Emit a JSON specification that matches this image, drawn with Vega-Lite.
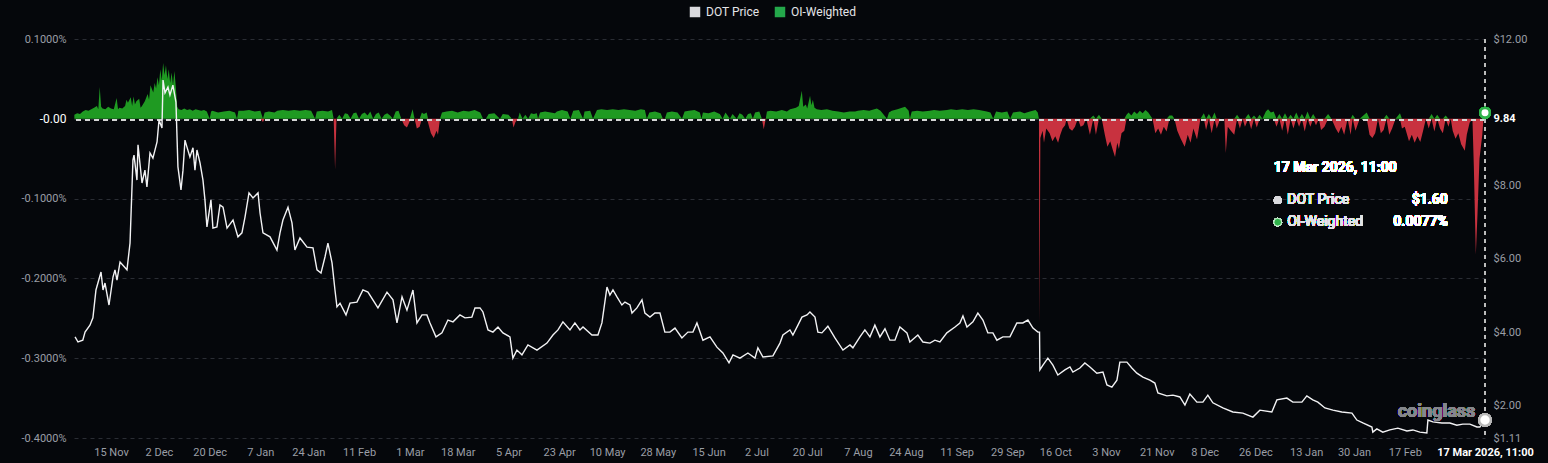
{
  "$schema": "https://vega.github.io/schema/vega-lite/v6.json",
  "width": 1411,
  "height": 399,
  "autosize": {"type": "none"},
  "padding": {"left": 74, "top": 39, "right": 63, "bottom": 25},
  "background": "#05070b",
  "config": {"view": {"stroke": null}, "font": "Roboto"},
  "datasets": {
    "price": [
      {"d":"2024-11-02T06:00Z","price":3.87},{"d":"2024-11-03T07:00Z","price":3.73},{"d":"2024-11-05T00:00Z","price":3.78},{"d":"2024-11-05T19:00Z","price":4.00},{"d":"2024-11-07T13:00Z","price":4.19},{"d":"2024-11-08T14:00Z","price":4.39},{"d":"2024-11-09T16:00Z","price":5.15},{"d":"2024-11-11T11:00Z","price":5.64},{"d":"2024-11-12T04:00Z","price":5.15},{"d":"2024-11-12T21:00Z","price":5.34},{"d":"2024-11-14T07:00Z","price":4.74},{"d":"2024-11-15T17:00Z","price":5.50},{"d":"2024-11-16T10:00Z","price":5.70},{"d":"2024-11-17T03:00Z","price":5.42},{"d":"2024-11-18T05:00Z","price":5.91},{"d":"2024-11-20T16:00Z","price":5.70},{"d":"2024-11-21T18:00Z","price":6.43},{"d":"2024-11-22T19:00Z","price":8.70},{"d":"2024-11-23T04:00Z","price":8.83},{"d":"2024-11-24T05:00Z","price":8.15},{"d":"2024-11-24T14:00Z","price":9.11},{"d":"2024-11-26T00:00Z","price":8.07},{"d":"2024-11-27T01:00Z","price":8.42},{"d":"2024-11-27T18:00Z","price":7.96},{"d":"2024-11-28T20:00Z","price":8.89},{"d":"2024-11-29T21:00Z","price":8.75},{"d":"2024-12-01T08:00Z","price":9.19},{"d":"2024-12-02T01:00Z","price":9.79},{"d":"2024-12-03T02:00Z","price":9.57},{"d":"2024-12-03T11:00Z","price":10.88},{"d":"2024-12-04T04:00Z","price":10.53},{"d":"2024-12-05T05:00Z","price":10.69},{"d":"2024-12-05T22:00Z","price":10.47},{"d":"2024-12-06T23:00Z","price":10.74},{"d":"2024-12-08T01:00Z","price":10.28},{"d":"2024-12-08T18:00Z","price":8.51},{"d":"2024-12-09T20:00Z","price":7.88},{"d":"2024-12-10T13:00Z","price":8.42},{"d":"2024-12-11T06:00Z","price":9.24},{"d":"2024-12-11T23:00Z","price":9.05},{"d":"2024-12-13T00:00Z","price":8.78},{"d":"2024-12-14T02:00Z","price":9.03},{"d":"2024-12-14T19:00Z","price":8.42},{"d":"2024-12-15T12:00Z","price":8.97},{"d":"2024-12-16T14:00Z","price":8.62},{"d":"2024-12-17T15:00Z","price":8.15},{"d":"2024-12-18T08:00Z","price":7.61},{"d":"2024-12-19T01:00Z","price":6.87},{"d":"2024-12-20T11:00Z","price":7.61},{"d":"2024-12-21T04:00Z","price":6.84},{"d":"2024-12-22T14:00Z","price":6.87},{"d":"2024-12-23T16:00Z","price":7.47},{"d":"2024-12-24T18:00Z","price":7.41},{"d":"2024-12-26T04:00Z","price":6.84},{"d":"2024-12-28T07:00Z","price":7.06},{"d":"2024-12-30T01:00Z","price":6.60},{"d":"2024-12-31T11:00Z","price":6.71},{"d":"2025-01-01T13:00Z","price":7.14},{"d":"2025-01-02T23:00Z","price":7.80},{"d":"2025-01-04T09:00Z","price":7.66},{"d":"2025-01-06T04:00Z","price":7.80},{"d":"2025-01-06T21:00Z","price":7.25},{"d":"2025-01-07T22:00Z","price":6.71},{"d":"2025-01-10T10:00Z","price":6.60},{"d":"2025-01-12T21:00Z","price":6.24},{"d":"2025-01-13T23:00Z","price":6.71},{"d":"2025-01-15T00:00Z","price":7.06},{"d":"2025-01-16T19:00Z","price":7.41},{"d":"2025-01-18T05:00Z","price":6.98},{"d":"2025-01-19T06:00Z","price":6.24},{"d":"2025-01-21T01:00Z","price":6.57},{"d":"2025-01-23T13:00Z","price":6.32},{"d":"2025-01-25T16:00Z","price":6.30},{"d":"2025-01-27T02:00Z","price":5.70},{"d":"2025-01-28T12:00Z","price":5.61},{"d":"2025-01-29T22:00Z","price":6.05},{"d":"2025-01-30T23:00Z","price":6.43},{"d":"2025-02-01T10:00Z","price":5.89},{"d":"2025-02-02T11:00Z","price":5.15},{"d":"2025-02-03T04:00Z","price":4.69},{"d":"2025-02-04T06:00Z","price":4.79},{"d":"2025-02-06T09:00Z","price":4.47},{"d":"2025-02-07T19:00Z","price":4.79},{"d":"2025-02-10T06:00Z","price":4.82},{"d":"2025-02-12T09:00Z","price":5.15},{"d":"2025-02-14T04:00Z","price":5.09},{"d":"2025-02-17T17:00Z","price":4.66},{"d":"2025-02-20T22:00Z","price":5.09},{"d":"2025-02-23T01:00Z","price":4.88},{"d":"2025-02-24T11:00Z","price":4.25},{"d":"2025-02-26T06:00Z","price":4.96},{"d":"2025-02-28T00:00Z","price":4.60},{"d":"2025-03-02T03:00Z","price":5.15},{"d":"2025-03-03T13:00Z","price":4.25},{"d":"2025-03-05T08:00Z","price":4.47},{"d":"2025-03-07T02:00Z","price":4.47},{"d":"2025-03-08T04:00Z","price":4.25},{"d":"2025-03-10T07:00Z","price":3.87},{"d":"2025-03-12T10:00Z","price":3.98},{"d":"2025-03-14T13:00Z","price":4.33},{"d":"2025-03-16T08:00Z","price":4.28},{"d":"2025-03-18T19:00Z","price":4.47},{"d":"2025-03-20T14:00Z","price":4.39},{"d":"2025-03-23T01:00Z","price":4.41},{"d":"2025-03-24T03:00Z","price":4.66},{"d":"2025-03-25T22:00Z","price":4.66},{"d":"2025-03-26T23:00Z","price":4.55},{"d":"2025-03-28T18:00Z","price":4.06},{"d":"2025-03-30T12:00Z","price":4.00},{"d":"2025-04-01T07:00Z","price":4.14},{"d":"2025-04-03T01:00Z","price":3.98},{"d":"2025-04-05T13:00Z","price":3.87},{"d":"2025-04-06T14:00Z","price":3.29},{"d":"2025-04-08T00:00Z","price":3.51},{"d":"2025-04-09T19:00Z","price":3.38},{"d":"2025-04-11T22:00Z","price":3.65},{"d":"2025-04-15T03:00Z","price":3.51},{"d":"2025-04-18T16:00Z","price":3.70},{"d":"2025-04-20T19:00Z","price":3.92},{"d":"2025-04-22T14:00Z","price":4.06},{"d":"2025-04-24T08:00Z","price":4.28},{"d":"2025-04-26T20:00Z","price":4.06},{"d":"2025-04-28T14:00Z","price":4.25},{"d":"2025-04-30T09:00Z","price":4.06},{"d":"2025-05-01T11:00Z","price":4.14},{"d":"2025-05-04T15:00Z","price":3.92},{"d":"2025-05-06T18:00Z","price":3.92},{"d":"2025-05-08T04:00Z","price":4.25},{"d":"2025-05-09T23:00Z","price":5.23},{"d":"2025-05-11T00:00Z","price":5.01},{"d":"2025-05-12T02:00Z","price":5.15},{"d":"2025-05-13T12:00Z","price":4.96},{"d":"2025-05-15T06:00Z","price":4.74},{"d":"2025-05-16T08:00Z","price":4.82},{"d":"2025-05-18T03:00Z","price":4.74},{"d":"2025-05-18T20:00Z","price":4.52},{"d":"2025-05-20T14:00Z","price":4.66},{"d":"2025-05-22T09:00Z","price":4.88},{"d":"2025-05-23T10:00Z","price":4.52},{"d":"2025-05-25T05:00Z","price":4.41},{"d":"2025-05-26T23:00Z","price":4.52},{"d":"2025-05-28T18:00Z","price":4.52},{"d":"2025-05-30T12:00Z","price":4.00},{"d":"2025-06-01T07:00Z","price":4.00},{"d":"2025-06-03T02:00Z","price":4.11},{"d":"2025-06-05T13:00Z","price":3.84},{"d":"2025-06-07T16:00Z","price":4.00},{"d":"2025-06-09T11:00Z","price":4.00},{"d":"2025-06-10T21:00Z","price":4.25},{"d":"2025-06-13T00:00Z","price":3.78},{"d":"2025-06-15T12:00Z","price":3.87},{"d":"2025-06-17T23:00Z","price":3.59},{"d":"2025-06-20T02:00Z","price":3.43},{"d":"2025-06-22T06:00Z","price":3.16},{"d":"2025-06-23T16:00Z","price":3.38},{"d":"2025-06-26T03:00Z","price":3.29},{"d":"2025-06-28T23:00Z","price":3.43},{"d":"2025-07-01T11:00Z","price":3.29},{"d":"2025-07-02T12:00Z","price":3.57},{"d":"2025-07-04T07:00Z","price":3.32},{"d":"2025-07-07T20:00Z","price":3.35},{"d":"2025-07-10T08:00Z","price":3.70},{"d":"2025-07-11T09:00Z","price":3.92},{"d":"2025-07-13T21:00Z","price":4.06},{"d":"2025-07-14T22:00Z","price":3.92},{"d":"2025-07-16T17:00Z","price":4.19},{"d":"2025-07-18T03:00Z","price":4.41},{"d":"2025-07-19T22:00Z","price":4.47},{"d":"2025-07-20T23:00Z","price":4.55},{"d":"2025-07-22T18:00Z","price":4.41},{"d":"2025-07-23T19:00Z","price":4.00},{"d":"2025-07-25T05:00Z","price":3.98},{"d":"2025-07-27T08:00Z","price":4.16},{"d":"2025-07-29T20:00Z","price":3.84},{"d":"2025-08-01T16:00Z","price":3.51},{"d":"2025-08-04T04:00Z","price":3.65},{"d":"2025-08-05T05:00Z","price":3.57},{"d":"2025-08-07T17:00Z","price":3.87},{"d":"2025-08-09T11:00Z","price":4.06},{"d":"2025-08-11T06:00Z","price":3.87},{"d":"2025-08-13T00:00Z","price":4.19},{"d":"2025-08-14T19:00Z","price":3.87},{"d":"2025-08-16T14:00Z","price":4.09},{"d":"2025-08-18T08:00Z","price":3.78},{"d":"2025-08-20T03:00Z","price":3.78},{"d":"2025-08-21T21:00Z","price":4.14},{"d":"2025-08-24T09:00Z","price":3.98},{"d":"2025-08-25T10:00Z","price":3.73},{"d":"2025-08-28T06:00Z","price":3.92},{"d":"2025-08-30T01:00Z","price":3.73},{"d":"2025-09-01T13:00Z","price":3.70},{"d":"2025-09-03T07:00Z","price":3.78},{"d":"2025-09-05T02:00Z","price":3.73},{"d":"2025-09-07T13:00Z","price":3.98},{"d":"2025-09-10T10:00Z","price":4.14},{"d":"2025-09-12T04:00Z","price":4.25},{"d":"2025-09-13T06:00Z","price":4.44},{"d":"2025-09-14T16:00Z","price":4.14},{"d":"2025-09-16T19:00Z","price":4.28},{"d":"2025-09-18T13:00Z","price":4.52},{"d":"2025-09-20T08:00Z","price":4.33},{"d":"2025-09-22T02:00Z","price":3.98},{"d":"2025-09-23T21:00Z","price":3.98},{"d":"2025-09-25T07:00Z","price":3.78},{"d":"2025-09-27T10:00Z","price":3.87},{"d":"2025-09-29T22:00Z","price":3.87},{"d":"2025-10-02T09:00Z","price":4.25},{"d":"2025-10-04T12:00Z","price":4.25},{"d":"2025-10-06T07:00Z","price":4.33},{"d":"2025-10-08T02:00Z","price":4.11},{"d":"2025-10-09T20:00Z","price":4.00},{"d":"2025-10-10T10:00Z","price":4.00},{"d":"2025-10-10T13:00Z","price":2.97},{"d":"2025-10-11T15:00Z","price":3.10},{"d":"2025-10-13T09:00Z","price":3.29},{"d":"2025-10-15T04:00Z","price":3.10},{"d":"2025-10-16T22:00Z","price":2.83},{"d":"2025-10-19T10:00Z","price":2.97},{"d":"2025-10-21T05:00Z","price":3.05},{"d":"2025-10-22T06:00Z","price":2.91},{"d":"2025-10-24T18:00Z","price":3.02},{"d":"2025-10-26T12:00Z","price":3.16},{"d":"2025-10-28T07:00Z","price":3.05},{"d":"2025-10-30T18:00Z","price":2.88},{"d":"2025-11-01T22:00Z","price":2.91},{"d":"2025-11-03T08:00Z","price":2.56},{"d":"2025-11-05T02:00Z","price":2.50},{"d":"2025-11-06T21:00Z","price":2.69},{"d":"2025-11-07T22:00Z","price":3.18},{"d":"2025-11-10T10:00Z","price":3.18},{"d":"2025-11-12T04:00Z","price":3.02},{"d":"2025-11-13T23:00Z","price":2.88},{"d":"2025-11-16T02:00Z","price":2.77},{"d":"2025-11-18T14:00Z","price":2.69},{"d":"2025-11-20T08:00Z","price":2.61},{"d":"2025-11-21T10:00Z","price":2.34},{"d":"2025-11-24T14:00Z","price":2.26},{"d":"2025-11-26T18:00Z","price":2.28},{"d":"2025-11-29T05:00Z","price":2.23},{"d":"2025-12-01T00:00Z","price":2.01},{"d":"2025-12-02T18:00Z","price":2.31},{"d":"2025-12-05T06:00Z","price":2.09},{"d":"2025-12-07T09:00Z","price":2.09},{"d":"2025-12-09T03:00Z","price":2.28},{"d":"2025-12-10T22:00Z","price":2.07},{"d":"2025-12-14T11:00Z","price":1.93},{"d":"2025-12-18T00:00Z","price":1.82},{"d":"2025-12-21T13:00Z","price":1.79},{"d":"2025-12-25T03:00Z","price":1.68},{"d":"2025-12-27T14:00Z","price":1.87},{"d":"2025-12-31T20:00Z","price":1.82},{"d":"2026-01-02T15:00Z","price":2.15},{"d":"2026-01-06T04:00Z","price":2.20},{"d":"2026-01-08T07:00Z","price":2.09},{"d":"2026-01-11T12:00Z","price":2.09},{"d":"2026-01-13T06:00Z","price":2.26},{"d":"2026-01-15T09:00Z","price":2.15},{"d":"2026-01-17T04:00Z","price":2.09},{"d":"2026-01-19T16:00Z","price":1.93},{"d":"2026-01-22T12:00Z","price":1.87},{"d":"2026-01-25T16:00Z","price":1.82},{"d":"2026-01-29T06:00Z","price":1.79},{"d":"2026-01-31T00:00Z","price":1.60},{"d":"2026-02-02T03:00Z","price":1.52},{"d":"2026-02-05T08:00Z","price":1.41},{"d":"2026-02-05T16:00Z","price":1.27},{"d":"2026-02-07T02:00Z","price":1.36},{"d":"2026-02-09T05:00Z","price":1.27},{"d":"2026-02-11T17:00Z","price":1.33},{"d":"2026-02-14T13:00Z","price":1.38},{"d":"2026-02-17T18:00Z","price":1.30},{"d":"2026-02-19T21:00Z","price":1.33},{"d":"2026-02-22T08:00Z","price":1.27},{"d":"2026-02-24T20:00Z","price":1.25},{"d":"2026-02-25T05:00Z","price":1.60},{"d":"2026-02-26T23:00Z","price":1.55},{"d":"2026-03-02T04:00Z","price":1.52},{"d":"2026-03-05T00:00Z","price":1.52},{"d":"2026-03-07T11:00Z","price":1.46},{"d":"2026-03-09T14:00Z","price":1.49},{"d":"2026-03-12T02:00Z","price":1.49},{"d":"2026-03-14T14:00Z","price":1.41},{"d":"2026-03-15T15:00Z","price":1.41},{"d":"2026-03-17T11:00Z","price":1.60}
    ],
    "fund": [
      {"d":"2024-11-02T00:00Z","p":0.005,"n":0},{"d":"2024-11-03T00:00Z","p":0.007,"n":0},{"d":"2024-11-04T00:00Z","p":0.006,"n":0},{"d":"2024-11-05T00:00Z","p":0.009,"n":0},{"d":"2024-11-06T00:00Z","p":0.011,"n":0},{"d":"2024-11-07T00:00Z","p":0.010,"n":0},{"d":"2024-11-08T00:00Z","p":0.012,"n":0},{"d":"2024-11-09T00:00Z","p":0.014,"n":0},{"d":"2024-11-10T00:00Z","p":0.016,"n":0},{"d":"2024-11-10T12:00Z","p":0.012,"n":0},{"d":"2024-11-11T00:00Z","p":0.040,"n":0},{"d":"2024-11-11T12:00Z","p":0.015,"n":0},{"d":"2024-11-12T00:00Z","p":0.013,"n":0},{"d":"2024-11-13T00:00Z","p":0.012,"n":0},{"d":"2024-11-14T00:00Z","p":0.015,"n":0},{"d":"2024-11-15T00:00Z","p":0.013,"n":0},{"d":"2024-11-16T00:00Z","p":0.012,"n":0},{"d":"2024-11-17T00:00Z","p":0.026,"n":0},{"d":"2024-11-17T12:00Z","p":0.012,"n":0},{"d":"2024-11-18T00:00Z","p":0.014,"n":0},{"d":"2024-11-19T00:00Z","p":0.013,"n":0},{"d":"2024-11-20T00:00Z","p":0.016,"n":0},{"d":"2024-11-20T12:00Z","p":0.024,"n":0},{"d":"2024-11-21T00:00Z","p":0.020,"n":0},{"d":"2024-11-22T00:00Z","p":0.027,"n":0},{"d":"2024-11-22T12:00Z","p":0.016,"n":0},{"d":"2024-11-23T00:00Z","p":0.028,"n":0},{"d":"2024-11-23T12:00Z","p":0.018,"n":0},{"d":"2024-11-24T00:00Z","p":0.022,"n":0},{"d":"2024-11-25T00:00Z","p":0.025,"n":0},{"d":"2024-11-25T12:00Z","p":0.014,"n":0},{"d":"2024-11-26T00:00Z","p":0.016,"n":0},{"d":"2024-11-27T00:00Z","p":0.022,"n":0},{"d":"2024-11-28T00:00Z","p":0.031,"n":0},{"d":"2024-11-28T12:00Z","p":0.024,"n":0},{"d":"2024-11-29T00:00Z","p":0.042,"n":0},{"d":"2024-11-30T00:00Z","p":0.033,"n":0},{"d":"2024-11-30T12:00Z","p":0.045,"n":0},{"d":"2024-12-01T00:00Z","p":0.038,"n":0},{"d":"2024-12-01T12:00Z","p":0.052,"n":0},{"d":"2024-12-02T00:00Z","p":0.042,"n":0},{"d":"2024-12-02T12:00Z","p":0.062,"n":0},{"d":"2024-12-03T00:00Z","p":0.048,"n":0},{"d":"2024-12-03T12:00Z","p":0.070,"n":0},{"d":"2024-12-04T00:00Z","p":0.055,"n":0},{"d":"2024-12-04T12:00Z","p":0.067,"n":0},{"d":"2024-12-05T00:00Z","p":0.050,"n":0},{"d":"2024-12-05T12:00Z","p":0.062,"n":0},{"d":"2024-12-06T00:00Z","p":0.045,"n":0},{"d":"2024-12-06T12:00Z","p":0.058,"n":0},{"d":"2024-12-07T00:00Z","p":0.042,"n":0},{"d":"2024-12-07T12:00Z","p":0.060,"n":0},{"d":"2024-12-08T00:00Z","p":0.040,"n":0},{"d":"2024-12-08T12:00Z","p":0.015,"n":0},{"d":"2024-12-09T00:00Z","p":0.012,"n":0},{"d":"2024-12-10T00:00Z","p":0.011,"n":0},{"d":"2024-12-11T00:00Z","p":0.013,"n":0},{"d":"2024-12-12T00:00Z","p":0.011,"n":0},{"d":"2024-12-13T00:00Z","p":0.012,"n":0},{"d":"2024-12-14T00:00Z","p":0.010,"n":0},{"d":"2024-12-15T00:00Z","p":0.012,"n":0},{"d":"2024-12-16T00:00Z","p":0.011,"n":0},{"d":"2024-12-17T00:00Z","p":0.010,"n":0},{"d":"2024-12-18T00:00Z","p":0.011,"n":0},{"d":"2024-12-19T00:00Z","p":0.009,"n":0},{"d":"2024-12-20T00:00Z","p":0,"n":0},{"d":"2024-12-20T12:00Z","p":0.009,"n":0},{"d":"2024-12-21T00:00Z","p":0.010,"n":0},{"d":"2024-12-23T00:00Z","p":0.008,"n":0},{"d":"2024-12-25T00:00Z","p":0.009,"n":0},{"d":"2024-12-27T00:00Z","p":0.010,"n":0},{"d":"2024-12-29T00:00Z","p":0.008,"n":0},{"d":"2024-12-29T17:00Z","p":0,"n":0},{"d":"2024-12-30T05:00Z","p":0.010,"n":0},{"d":"2025-01-01T00:00Z","p":0.010,"n":0},{"d":"2025-01-03T00:00Z","p":0.011,"n":0},{"d":"2025-01-05T00:00Z","p":0.009,"n":0},{"d":"2025-01-07T00:00Z","p":0.010,"n":0},{"d":"2025-01-07T22:00Z","p":0,"n":-0.004},{"d":"2025-01-08T12:00Z","p":0.008,"n":0},{"d":"2025-01-10T00:00Z","p":0.009,"n":0},{"d":"2025-01-12T00:00Z","p":0.008,"n":0},{"d":"2025-01-13T00:00Z","p":0.010,"n":0},{"d":"2025-01-15T00:00Z","p":0.011,"n":0},{"d":"2025-01-17T00:00Z","p":0.010,"n":0},{"d":"2025-01-19T00:00Z","p":0.011,"n":0},{"d":"2025-01-21T00:00Z","p":0.010,"n":0},{"d":"2025-01-23T00:00Z","p":0.011,"n":0},{"d":"2025-01-25T00:00Z","p":0.010,"n":0},{"d":"2025-01-26T10:00Z","p":0,"n":0},{"d":"2025-01-27T00:00Z","p":0.009,"n":0},{"d":"2025-01-29T00:00Z","p":0.010,"n":0},{"d":"2025-01-31T00:00Z","p":0.009,"n":0},{"d":"2025-02-01T10:00Z","p":0.011,"n":0},{"d":"2025-02-02T00:00Z","p":0,"n":0},{"d":"2025-02-02T12:00Z","p":0,"n":-0.064},{"d":"2025-02-03T00:00Z","p":0,"n":0},{"d":"2025-02-04T00:00Z","p":0.005,"n":0},{"d":"2025-02-05T00:00Z","p":0,"n":0},{"d":"2025-02-06T00:00Z","p":0.007,"n":0},{"d":"2025-02-07T00:00Z","p":0.006,"n":0},{"d":"2025-02-08T00:00Z","p":0,"n":0},{"d":"2025-02-09T00:00Z","p":0.007,"n":0},{"d":"2025-02-10T00:00Z","p":0.008,"n":0},{"d":"2025-02-11T00:00Z","p":0,"n":0},{"d":"2025-02-12T00:00Z","p":0.006,"n":0},{"d":"2025-02-13T00:00Z","p":0.008,"n":0},{"d":"2025-02-14T00:00Z","p":0.004,"n":0},{"d":"2025-02-15T00:00Z","p":0.009,"n":0},{"d":"2025-02-16T00:00Z","p":0,"n":0},{"d":"2025-02-17T00:00Z","p":0.006,"n":0},{"d":"2025-02-18T00:00Z","p":0.008,"n":0},{"d":"2025-02-19T00:00Z","p":0,"n":0},{"d":"2025-02-20T00:00Z","p":0.005,"n":0},{"d":"2025-02-21T00:00Z","p":0.007,"n":0},{"d":"2025-02-22T00:00Z","p":0.004,"n":0},{"d":"2025-02-23T00:00Z","p":0,"n":0},{"d":"2025-02-24T00:00Z","p":0.009,"n":0},{"d":"2025-02-25T00:00Z","p":0.010,"n":0},{"d":"2025-02-26T00:00Z","p":0,"n":0},{"d":"2025-02-27T00:00Z","p":0,"n":-0.008},{"d":"2025-02-28T00:00Z","p":0,"n":-0.011},{"d":"2025-03-01T00:00Z","p":0,"n":-0.003},{"d":"2025-03-02T00:00Z","p":0.012,"n":0},{"d":"2025-03-02T17:00Z","p":0,"n":0},{"d":"2025-03-03T12:00Z","p":0,"n":-0.012},{"d":"2025-03-04T12:00Z","p":0,"n":-0.010},{"d":"2025-03-05T07:00Z","p":0.008,"n":0},{"d":"2025-03-06T00:00Z","p":0.006,"n":0},{"d":"2025-03-07T00:00Z","p":0.008,"n":0},{"d":"2025-03-07T12:00Z","p":0,"n":-0.005},{"d":"2025-03-08T12:00Z","p":0,"n":-0.018},{"d":"2025-03-09T12:00Z","p":0,"n":-0.024},{"d":"2025-03-10T12:00Z","p":0,"n":-0.015},{"d":"2025-03-11T00:00Z","p":0,"n":-0.020},{"d":"2025-03-11T17:00Z","p":0,"n":0},{"d":"2025-03-12T10:00Z","p":0.008,"n":0},{"d":"2025-03-14T00:00Z","p":0.009,"n":0},{"d":"2025-03-16T00:00Z","p":0.010,"n":0},{"d":"2025-03-18T00:00Z","p":0.008,"n":0},{"d":"2025-03-20T00:00Z","p":0.010,"n":0},{"d":"2025-03-22T00:00Z","p":0.009,"n":0},{"d":"2025-03-24T00:00Z","p":0.011,"n":0},{"d":"2025-03-26T00:00Z","p":0.008,"n":0},{"d":"2025-03-27T00:00Z","p":0,"n":0},{"d":"2025-03-28T00:00Z","p":0,"n":0},{"d":"2025-03-29T00:00Z","p":0.006,"n":0},{"d":"2025-03-31T00:00Z","p":0.007,"n":0},{"d":"2025-04-02T00:00Z","p":0,"n":0},{"d":"2025-04-03T00:00Z","p":0.006,"n":0},{"d":"2025-04-05T00:00Z","p":0.005,"n":0},{"d":"2025-04-06T05:00Z","p":0,"n":0},{"d":"2025-04-06T19:00Z","p":0,"n":-0.011},{"d":"2025-04-07T12:00Z","p":0,"n":-0.004},{"d":"2025-04-08T10:00Z","p":0,"n":0},{"d":"2025-04-09T00:00Z","p":0.008,"n":0},{"d":"2025-04-10T00:00Z","p":0,"n":0},{"d":"2025-04-11T00:00Z","p":0.005,"n":0},{"d":"2025-04-12T00:00Z","p":0,"n":0},{"d":"2025-04-13T00:00Z","p":0.007,"n":0},{"d":"2025-04-14T00:00Z","p":0.006,"n":0},{"d":"2025-04-15T02:00Z","p":0.007,"n":0},{"d":"2025-04-15T12:00Z","p":0,"n":-0.002},{"d":"2025-04-16T05:00Z","p":0.008,"n":0},{"d":"2025-04-18T00:00Z","p":0.009,"n":0},{"d":"2025-04-20T00:00Z","p":0.008,"n":0},{"d":"2025-04-21T12:00Z","p":0.007,"n":0},{"d":"2025-04-22T05:00Z","p":0.009,"n":0},{"d":"2025-04-24T00:00Z","p":0.011,"n":0},{"d":"2025-04-26T00:00Z","p":0.009,"n":0},{"d":"2025-04-27T00:00Z","p":0,"n":0},{"d":"2025-04-28T00:00Z","p":0.010,"n":0},{"d":"2025-04-30T00:00Z","p":0.011,"n":0},{"d":"2025-05-01T12:00Z","p":0,"n":0},{"d":"2025-05-02T00:00Z","p":0.009,"n":0},{"d":"2025-05-04T00:00Z","p":0.010,"n":0},{"d":"2025-05-05T00:00Z","p":0,"n":0},{"d":"2025-05-06T10:00Z","p":0.011,"n":0},{"d":"2025-05-08T00:00Z","p":0.012,"n":0},{"d":"2025-05-10T00:00Z","p":0.011,"n":0},{"d":"2025-05-12T00:00Z","p":0.012,"n":0},{"d":"2025-05-14T00:00Z","p":0.011,"n":0},{"d":"2025-05-16T00:00Z","p":0.012,"n":0},{"d":"2025-05-18T00:00Z","p":0.011,"n":0},{"d":"2025-05-20T00:00Z","p":0.010,"n":0},{"d":"2025-05-22T00:00Z","p":0.012,"n":0},{"d":"2025-05-23T10:00Z","p":0.011,"n":0},{"d":"2025-05-24T02:00Z","p":0,"n":0},{"d":"2025-05-25T00:00Z","p":0.008,"n":0},{"d":"2025-05-27T00:00Z","p":0.009,"n":0},{"d":"2025-05-29T00:00Z","p":0.007,"n":0},{"d":"2025-05-29T19:00Z","p":0,"n":-0.002},{"d":"2025-05-30T12:00Z","p":0,"n":0},{"d":"2025-05-31T05:00Z","p":0.008,"n":0},{"d":"2025-06-02T00:00Z","p":0.009,"n":0},{"d":"2025-06-04T00:00Z","p":0.008,"n":0},{"d":"2025-06-05T14:00Z","p":0,"n":0},{"d":"2025-06-06T12:00Z","p":0.009,"n":0},{"d":"2025-06-08T00:00Z","p":0.010,"n":0},{"d":"2025-06-10T00:00Z","p":0.011,"n":0},{"d":"2025-06-11T22:00Z","p":0.008,"n":0},{"d":"2025-06-12T12:00Z","p":0,"n":0},{"d":"2025-06-13T00:00Z","p":0.008,"n":0},{"d":"2025-06-15T00:00Z","p":0.007,"n":0},{"d":"2025-06-17T00:00Z","p":0.009,"n":0},{"d":"2025-06-19T00:00Z","p":0.006,"n":0},{"d":"2025-06-20T00:00Z","p":0,"n":0},{"d":"2025-06-21T00:00Z","p":0.008,"n":0},{"d":"2025-06-22T14:00Z","p":0,"n":0},{"d":"2025-06-23T12:00Z","p":0.006,"n":0},{"d":"2025-06-25T00:00Z","p":0,"n":0},{"d":"2025-06-26T00:00Z","p":0.007,"n":0},{"d":"2025-06-27T00:00Z","p":0.005,"n":0},{"d":"2025-06-28T00:00Z","p":0,"n":0},{"d":"2025-06-29T00:00Z","p":0.006,"n":0},{"d":"2025-06-30T00:00Z","p":0.007,"n":0},{"d":"2025-06-30T17:00Z","p":0,"n":-0.002},{"d":"2025-07-01T12:00Z","p":0.008,"n":0},{"d":"2025-07-03T00:00Z","p":0.009,"n":0},{"d":"2025-07-03T22:00Z","p":0,"n":0},{"d":"2025-07-04T14:00Z","p":0,"n":-0.013},{"d":"2025-07-05T07:00Z","p":0,"n":0},{"d":"2025-07-05T17:00Z","p":0.009,"n":0},{"d":"2025-07-07T00:00Z","p":0.010,"n":0},{"d":"2025-07-09T00:00Z","p":0.009,"n":0},{"d":"2025-07-11T00:00Z","p":0.011,"n":0},{"d":"2025-07-12T19:00Z","p":0.009,"n":0},{"d":"2025-07-13T22:00Z","p":0.012,"n":0},{"d":"2025-07-15T00:00Z","p":0.013,"n":0},{"d":"2025-07-16T00:00Z","p":0.014,"n":0},{"d":"2025-07-17T00:00Z","p":0.016,"n":0},{"d":"2025-07-18T02:00Z","p":0.035,"n":0},{"d":"2025-07-18T14:00Z","p":0.015,"n":0},{"d":"2025-07-19T12:00Z","p":0.018,"n":0},{"d":"2025-07-20T00:00Z","p":0.013,"n":0},{"d":"2025-07-21T00:00Z","p":0.029,"n":0},{"d":"2025-07-21T12:00Z","p":0.017,"n":0},{"d":"2025-07-22T00:00Z","p":0.024,"n":0},{"d":"2025-07-22T14:00Z","p":0.014,"n":0},{"d":"2025-07-23T10:00Z","p":0.012,"n":0},{"d":"2025-07-25T00:00Z","p":0.011,"n":0},{"d":"2025-07-27T00:00Z","p":0.012,"n":0},{"d":"2025-07-29T00:00Z","p":0.010,"n":0},{"d":"2025-07-31T00:00Z","p":0.009,"n":0},{"d":"2025-08-02T00:00Z","p":0.008,"n":0},{"d":"2025-08-04T00:00Z","p":0.009,"n":0},{"d":"2025-08-06T00:00Z","p":0.009,"n":0},{"d":"2025-08-07T00:00Z","p":0.010,"n":0},{"d":"2025-08-09T00:00Z","p":0.011,"n":0},{"d":"2025-08-11T00:00Z","p":0.010,"n":0},{"d":"2025-08-13T17:00Z","p":0.013,"n":0},{"d":"2025-08-15T00:00Z","p":0.010,"n":0},{"d":"2025-08-17T07:00Z","p":0,"n":0},{"d":"2025-08-18T00:00Z","p":0.008,"n":0},{"d":"2025-08-19T00:00Z","p":0.010,"n":0},{"d":"2025-08-21T00:00Z","p":0.012,"n":0},{"d":"2025-08-23T17:00Z","p":0.015,"n":0},{"d":"2025-08-25T00:00Z","p":0.010,"n":0},{"d":"2025-08-25T10:00Z","p":0,"n":-0.002},{"d":"2025-08-26T02:00Z","p":0.009,"n":0},{"d":"2025-08-28T00:00Z","p":0.010,"n":0},{"d":"2025-08-30T00:00Z","p":0.009,"n":0},{"d":"2025-09-01T12:00Z","p":0.010,"n":0},{"d":"2025-09-03T00:00Z","p":0.011,"n":0},{"d":"2025-09-05T00:00Z","p":0.010,"n":0},{"d":"2025-09-07T14:00Z","p":0.011,"n":0},{"d":"2025-09-09T00:00Z","p":0.012,"n":0},{"d":"2025-09-11T00:00Z","p":0.011,"n":0},{"d":"2025-09-13T00:00Z","p":0.012,"n":0},{"d":"2025-09-15T00:00Z","p":0.011,"n":0},{"d":"2025-09-17T00:00Z","p":0.012,"n":0},{"d":"2025-09-19T00:00Z","p":0.011,"n":0},{"d":"2025-09-21T17:00Z","p":0.009,"n":0},{"d":"2025-09-23T00:00Z","p":0.008,"n":0},{"d":"2025-09-24T00:00Z","p":0,"n":0},{"d":"2025-09-25T00:00Z","p":0.009,"n":0},{"d":"2025-09-27T00:00Z","p":0.008,"n":0},{"d":"2025-09-29T00:00Z","p":0.009,"n":0},{"d":"2025-09-30T00:00Z","p":0,"n":0},{"d":"2025-10-01T00:00Z","p":0.008,"n":0},{"d":"2025-10-03T12:00Z","p":0.009,"n":0},{"d":"2025-10-05T00:00Z","p":0.007,"n":0},{"d":"2025-10-07T00:00Z","p":0.009,"n":0},{"d":"2025-10-09T00:00Z","p":0.011,"n":0},{"d":"2025-10-09T19:00Z","p":0.008,"n":0},{"d":"2025-10-10T05:00Z","p":0,"n":0},{"d":"2025-10-10T10:00Z","p":0,"n":-0.26},{"d":"2025-10-10T17:00Z","p":0,"n":-0.024},{"d":"2025-10-11T12:00Z","p":0,"n":-0.015},{"d":"2025-10-12T00:00Z","p":0,"n":-0.030},{"d":"2025-10-12T19:00Z","p":0,"n":-0.012},{"d":"2025-10-14T00:00Z","p":0,"n":-0.018},{"d":"2025-10-15T00:00Z","p":0,"n":-0.028},{"d":"2025-10-16T00:00Z","p":0,"n":-0.022},{"d":"2025-10-17T00:00Z","p":0,"n":-0.030},{"d":"2025-10-17T19:00Z","p":0,"n":-0.020},{"d":"2025-10-18T14:00Z","p":0,"n":-0.012},{"d":"2025-10-19T12:00Z","p":0,"n":-0.008},{"d":"2025-10-20T00:00Z","p":0,"n":0},{"d":"2025-10-21T00:00Z","p":0,"n":-0.012},{"d":"2025-10-22T00:00Z","p":0,"n":-0.015},{"d":"2025-10-23T00:00Z","p":0,"n":-0.010},{"d":"2025-10-24T00:00Z","p":0,"n":0},{"d":"2025-10-25T00:00Z","p":0,"n":-0.010},{"d":"2025-10-26T00:00Z","p":0,"n":-0.008},{"d":"2025-10-27T00:00Z","p":0,"n":0},{"d":"2025-10-28T07:00Z","p":0,"n":-0.020},{"d":"2025-10-29T12:00Z","p":0.004,"n":0},{"d":"2025-10-30T10:00Z","p":0,"n":-0.020},{"d":"2025-10-31T12:00Z","p":0.005,"n":0},{"d":"2025-11-01T12:00Z","p":0,"n":0},{"d":"2025-11-02T14:00Z","p":0,"n":-0.020},{"d":"2025-11-03T12:00Z","p":0,"n":-0.035},{"d":"2025-11-04T12:00Z","p":0,"n":-0.028},{"d":"2025-11-05T12:00Z","p":0,"n":-0.040},{"d":"2025-11-06T05:00Z","p":0,"n":-0.048},{"d":"2025-11-07T00:00Z","p":0,"n":-0.030},{"d":"2025-11-07T14:00Z","p":0,"n":-0.038},{"d":"2025-11-08T12:00Z","p":0,"n":-0.018},{"d":"2025-11-09T12:00Z","p":0,"n":-0.015},{"d":"2025-11-10T07:00Z","p":0.005,"n":0},{"d":"2025-11-11T00:00Z","p":0.008,"n":0},{"d":"2025-11-12T00:00Z","p":0.004,"n":0},{"d":"2025-11-13T00:00Z","p":0.009,"n":0},{"d":"2025-11-14T00:00Z","p":0.006,"n":0},{"d":"2025-11-15T00:00Z","p":0.010,"n":0},{"d":"2025-11-16T00:00Z","p":0.007,"n":0},{"d":"2025-11-17T00:00Z","p":0.011,"n":0},{"d":"2025-11-18T00:00Z","p":0.008,"n":0},{"d":"2025-11-19T12:00Z","p":0,"n":0},{"d":"2025-11-20T12:00Z","p":0,"n":-0.018},{"d":"2025-11-21T12:00Z","p":0,"n":-0.012},{"d":"2025-11-22T12:00Z","p":0,"n":-0.020},{"d":"2025-11-23T12:00Z","p":0,"n":-0.010},{"d":"2025-11-24T12:00Z","p":0,"n":-0.016},{"d":"2025-11-25T12:00Z","p":0.004,"n":0},{"d":"2025-11-26T12:00Z","p":0.004,"n":0},{"d":"2025-11-27T07:00Z","p":0,"n":0},{"d":"2025-11-28T07:00Z","p":0,"n":-0.015},{"d":"2025-11-29T12:00Z","p":0,"n":-0.025},{"d":"2025-11-30T22:00Z","p":0,"n":-0.035},{"d":"2025-12-02T00:00Z","p":0,"n":-0.020},{"d":"2025-12-03T00:00Z","p":0,"n":-0.030},{"d":"2025-12-04T00:00Z","p":0,"n":-0.012},{"d":"2025-12-05T07:00Z","p":0,"n":-0.026},{"d":"2025-12-06T12:00Z","p":0,"n":0},{"d":"2025-12-07T17:00Z","p":0.007,"n":0},{"d":"2025-12-08T12:00Z","p":0,"n":-0.014},{"d":"2025-12-09T12:00Z","p":0.006,"n":0},{"d":"2025-12-10T12:00Z","p":0,"n":-0.018},{"d":"2025-12-11T12:00Z","p":0.008,"n":0},{"d":"2025-12-12T07:00Z","p":0,"n":-0.012},{"d":"2025-12-13T12:00Z","p":0,"n":0},{"d":"2025-12-15T00:00Z","p":0,"n":0},{"d":"2025-12-15T12:00Z","p":0,"n":-0.043},{"d":"2025-12-16T05:00Z","p":0,"n":-0.010},{"d":"2025-12-17T07:00Z","p":0,"n":-0.015},{"d":"2025-12-18T12:00Z","p":0,"n":-0.020},{"d":"2025-12-19T12:00Z","p":0.005,"n":0},{"d":"2025-12-20T12:00Z","p":0,"n":-0.012},{"d":"2025-12-21T12:00Z","p":0,"n":0},{"d":"2025-12-22T07:00Z","p":0,"n":-0.010},{"d":"2025-12-23T12:00Z","p":0.006,"n":0},{"d":"2025-12-24T12:00Z","p":0,"n":-0.013},{"d":"2025-12-25T12:00Z","p":0.004,"n":0},{"d":"2025-12-26T12:00Z","p":0,"n":-0.011},{"d":"2025-12-27T12:00Z","p":0.005,"n":0},{"d":"2025-12-28T12:00Z","p":0,"n":0},{"d":"2025-12-29T17:00Z","p":0.009,"n":0},{"d":"2025-12-30T12:00Z","p":0.012,"n":0},{"d":"2025-12-31T12:00Z","p":0.008,"n":0},{"d":"2026-01-01T12:00Z","p":0.009,"n":0},{"d":"2026-01-02T12:00Z","p":0,"n":-0.010},{"d":"2026-01-03T12:00Z","p":0.006,"n":0},{"d":"2026-01-04T12:00Z","p":0,"n":-0.015},{"d":"2026-01-05T12:00Z","p":0.007,"n":0},{"d":"2026-01-06T12:00Z","p":0,"n":-0.020},{"d":"2026-01-07T12:00Z","p":0.005,"n":0},{"d":"2026-01-08T12:00Z","p":0,"n":-0.012},{"d":"2026-01-09T12:00Z","p":0.008,"n":0},{"d":"2026-01-10T12:00Z","p":0,"n":-0.010},{"d":"2026-01-11T12:00Z","p":0.006,"n":0},{"d":"2026-01-12T12:00Z","p":0,"n":-0.016},{"d":"2026-01-13T12:00Z","p":0.009,"n":0},{"d":"2026-01-14T12:00Z","p":0,"n":-0.010},{"d":"2026-01-15T12:00Z","p":0.006,"n":0},{"d":"2026-01-16T12:00Z","p":0,"n":-0.008},{"d":"2026-01-17T12:00Z","p":0,"n":0},{"d":"2026-01-18T07:00Z","p":0,"n":-0.014},{"d":"2026-01-19T12:00Z","p":0,"n":-0.010},{"d":"2026-01-20T19:00Z","p":0.006,"n":0},{"d":"2026-01-22T00:00Z","p":0,"n":0},{"d":"2026-01-23T12:00Z","p":0,"n":-0.012},{"d":"2026-01-24T12:00Z","p":0,"n":-0.018},{"d":"2026-01-25T12:00Z","p":0,"n":-0.010},{"d":"2026-01-26T12:00Z","p":0,"n":-0.020},{"d":"2026-01-27T17:00Z","p":0,"n":0},{"d":"2026-01-28T19:00Z","p":0,"n":-0.020},{"d":"2026-01-29T12:00Z","p":0.005,"n":0},{"d":"2026-01-30T12:00Z","p":0,"n":-0.015},{"d":"2026-02-01T00:00Z","p":0,"n":0},{"d":"2026-02-02T07:00Z","p":0.004,"n":0},{"d":"2026-02-03T12:00Z","p":0.008,"n":0},{"d":"2026-02-04T12:00Z","p":0,"n":-0.020},{"d":"2026-02-05T12:00Z","p":0,"n":-0.024},{"d":"2026-02-06T12:00Z","p":0,"n":-0.018},{"d":"2026-02-07T12:00Z","p":0,"n":0},{"d":"2026-02-08T12:00Z","p":0,"n":-0.018},{"d":"2026-02-09T12:00Z","p":0,"n":-0.014},{"d":"2026-02-10T12:00Z","p":0.005,"n":0},{"d":"2026-02-11T12:00Z","p":0,"n":-0.020},{"d":"2026-02-12T12:00Z","p":0,"n":-0.012},{"d":"2026-02-13T17:00Z","p":0,"n":0},{"d":"2026-02-15T07:00Z","p":0.007,"n":0},{"d":"2026-02-16T00:00Z","p":0,"n":-0.012},{"d":"2026-02-17T00:00Z","p":0,"n":-0.010},{"d":"2026-02-18T12:00Z","p":0,"n":-0.028},{"d":"2026-02-19T12:00Z","p":0,"n":-0.020},{"d":"2026-02-20T12:00Z","p":0,"n":-0.030},{"d":"2026-02-21T12:00Z","p":0,"n":-0.022},{"d":"2026-02-22T12:00Z","p":0,"n":-0.029},{"d":"2026-02-23T12:00Z","p":0,"n":-0.015},{"d":"2026-02-24T12:00Z","p":0,"n":0},{"d":"2026-02-25T12:00Z","p":0,"n":-0.012},{"d":"2026-02-26T12:00Z","p":0.006,"n":0},{"d":"2026-02-27T12:00Z","p":0,"n":-0.016},{"d":"2026-02-28T12:00Z","p":0.005,"n":0},{"d":"2026-03-01T12:00Z","p":0,"n":-0.012},{"d":"2026-03-02T12:00Z","p":0,"n":-0.018},{"d":"2026-03-03T12:00Z","p":0.004,"n":0},{"d":"2026-03-04T12:00Z","p":0,"n":-0.010},{"d":"2026-03-05T07:00Z","p":0,"n":0},{"d":"2026-03-06T00:00Z","p":0,"n":-0.015},{"d":"2026-03-07T00:00Z","p":0,"n":-0.025},{"d":"2026-03-08T00:00Z","p":0,"n":-0.018},{"d":"2026-03-09T00:00Z","p":0,"n":-0.032},{"d":"2026-03-10T07:00Z","p":0,"n":-0.040},{"d":"2026-03-11T00:00Z","p":0,"n":-0.020},{"d":"2026-03-12T00:00Z","p":0,"n":-0.005},{"d":"2026-03-13T00:00Z","p":0,"n":0},{"d":"2026-03-13T12:00Z","p":0,"n":-0.060},{"d":"2026-03-14T05:00Z","p":0,"n":-0.170},{"d":"2026-03-14T19:00Z","p":0,"n":-0.120},{"d":"2026-03-15T12:00Z","p":0,"n":-0.050},{"d":"2026-03-16T12:00Z","p":0,"n":-0.020},{"d":"2026-03-16T22:00Z","p":0,"n":0},{"d":"2026-03-17T11:00Z","p":0.0077,"n":0}
    ]
  },
  "layer": [
    {
      "data": {"name": "fund"},
      "layer": [
        {
          "mark": {"type": "area", "color": "#1f9a22", "interpolate": "linear"},
          "encoding": {
            "x": {
              "field": "d", "type": "temporal",
              "scale": {"type": "utc", "domain": [{"year": 2024, "month": 11, "date": 1, "hours": 21, "utc": true}, {"year": 2026, "month": 3, "date": 17, "hours": 11, "utc": true}]},
              "axis": {
                "title": null, "grid": false, "ticks": false, "domain": false,
                "values": [
                  {"year": 2024, "month": 11, "date": 15, "utc": true}, {"year": 2024, "month": 12, "date": 2, "utc": true}, {"year": 2024, "month": 12, "date": 20, "utc": true},
                  {"year": 2025, "month": 1, "date": 7, "utc": true}, {"year": 2025, "month": 1, "date": 24, "utc": true}, {"year": 2025, "month": 2, "date": 11, "utc": true},
                  {"year": 2025, "month": 3, "date": 1, "utc": true}, {"year": 2025, "month": 3, "date": 18, "utc": true}, {"year": 2025, "month": 4, "date": 5, "utc": true},
                  {"year": 2025, "month": 4, "date": 23, "utc": true}, {"year": 2025, "month": 5, "date": 10, "utc": true}, {"year": 2025, "month": 5, "date": 28, "utc": true},
                  {"year": 2025, "month": 6, "date": 15, "utc": true}, {"year": 2025, "month": 7, "date": 2, "utc": true}, {"year": 2025, "month": 7, "date": 20, "utc": true},
                  {"year": 2025, "month": 8, "date": 7, "utc": true}, {"year": 2025, "month": 8, "date": 24, "utc": true}, {"year": 2025, "month": 9, "date": 11, "utc": true},
                  {"year": 2025, "month": 9, "date": 29, "utc": true}, {"year": 2025, "month": 10, "date": 16, "utc": true}, {"year": 2025, "month": 11, "date": 3, "utc": true},
                  {"year": 2025, "month": 11, "date": 21, "utc": true}, {"year": 2025, "month": 12, "date": 8, "utc": true}, {"year": 2025, "month": 12, "date": 26, "utc": true},
                  {"year": 2026, "month": 1, "date": 13, "utc": true}, {"year": 2026, "month": 1, "date": 30, "utc": true}, {"year": 2026, "month": 2, "date": 17, "utc": true},
                  {"year": 2026, "month": 3, "date": 17, "hours": 11, "utc": true}
                ],
                "labelExpr": "datum.value >= utc(2026, 2, 1) ? '17 Mar 2026, 11:00' : utcFormat(datum.value, '%-d %b')",
                "labelColor": {"condition": {"test": "datum.value >= utc(2026, 2, 1)", "value": "#ffffff"}, "value": "#9a9ea6"},
                "labelFontWeight": {"condition": {"test": "datum.value >= utc(2026, 2, 1)", "value": "bold"}, "value": "normal"},
                "labelFontSize": 11, "labelFont": "Roboto", "labelPadding": 8,
                "labelOverlap": false, "labelFlush": false
              }
            },
            "y": {
              "field": "p", "type": "quantitative",
              "scale": {"domain": [-0.4, 0.1], "nice": false, "zero": false},
              "axis": {
                "title": null, "ticks": false, "domain": false,
                "values": [-0.4, -0.3, -0.2, -0.1, 0, 0.1],
                "labelExpr": "datum.value == 0 ? '-0.00' : (datum.value < 0 ? '-' : '') + format(abs(datum.value), '.4f') + '%'",
                "grid": true, "gridColor": "#2a2d34", "gridDash": [4, 4], "gridWidth": 1,
                "labelColor": {"condition": {"test": "datum.value == 0", "value": "#ffffff"}, "value": "#9a9ea6"},
                "labelFontSize": {"condition": {"test": "datum.value == 0", "value": 12}, "value": 11},
                "labelFont": "Roboto", "labelPadding": 8
              }
            },
            "y2": {"datum": 0}
          }
        },
        {
          "mark": {"type": "area", "color": "#c8323f", "interpolate": "linear"},
          "encoding": {
            "x": {"field": "d", "type": "temporal"},
            "y": {"field": "n", "type": "quantitative"},
            "y2": {"datum": 0}
          }
        },
        {
          "mark": {"type": "rule", "color": "#d6d6d6", "strokeDash": [5, 4], "strokeWidth": 1},
          "encoding": {"y": {"datum": -0.0012}}
        },
        {
          "mark": {"type": "rule", "color": "#bdbdbd", "strokeDash": [4, 4], "strokeWidth": 1},
          "encoding": {"x": {"datum": {"year": 2026, "month": 3, "date": 17, "hours": 11, "utc": true}, "type": "temporal"}}
        },
        {
          "mark": {"type": "point", "filled": true, "fill": "#ffffff", "stroke": "#2fb34a", "strokeWidth": 2.5, "size": 90, "opacity": 1},
          "encoding": {
            "x": {"datum": {"year": 2026, "month": 3, "date": 17, "hours": 11, "utc": true}, "type": "temporal"},
            "y": {"datum": 0.0077}
          }
        }
      ]
    },
    {
      "data": {"name": "price"},
      "layer": [
        {
          "mark": {"type": "line", "color": "#f2f2f4", "strokeWidth": 1.4, "interpolate": "linear"},
          "encoding": {
            "x": {"field": "d", "type": "temporal"},
            "y": {
              "field": "price", "type": "quantitative",
              "scale": {"domain": [1.11, 12], "nice": false, "zero": false},
              "axis": {
                "orient": "right", "title": null, "ticks": false, "domain": false, "grid": false,
                "values": [1.11, 2, 4, 6, 8, 9.84, 12],
                "labelExpr": "datum.value == 9.84 ? '9.84' : '$' + format(datum.value, '.2f')",
                "labelColor": {"condition": {"test": "datum.value == 9.84", "value": "#ffffff"}, "value": "#9a9ea6"},
                "labelFontWeight": {"condition": {"test": "datum.value == 9.84", "value": "bold"}, "value": "normal"},
                "labelFontSize": 11, "labelFont": "Roboto", "labelPadding": 8
              }
            }
          }
        },
        {
          "mark": {"type": "text", "align": "left", "baseline": "middle", "fontSize": 18, "fontWeight": "bold", "color": "#85878c", "font": "Roboto"},
          "encoding": {
            "x": {"datum": {"year": 2026, "month": 2, "date": 14, "hours": 12, "utc": true}, "type": "temporal"},
            "y": {"datum": 1.82},
            "text": {"value": "coinglass"}
          }
        },
        {
          "mark": {"type": "point", "filled": true, "fill": "#ffffff", "stroke": "#b8b8b8", "strokeWidth": 2, "size": 130, "opacity": 1},
          "encoding": {
            "x": {"datum": {"year": 2026, "month": 3, "date": 17, "hours": 11, "utc": true}, "type": "temporal"},
            "y": {"datum": 1.6}
          }
        },
        {
          "mark": {"type": "text", "align": "left", "baseline": "middle", "fontSize": 14, "fontWeight": "bold", "color": "#ffffff", "font": "Roboto"},
          "encoding": {
            "x": {"datum": {"year": 2026, "month": 1, "date": 1, "hours": 13, "utc": true}, "type": "temporal"},
            "y": {"datum": 8.48},
            "text": {"value": "17 Mar 2026, 11:00"}
          }
        },
        {
          "mark": {"type": "point", "filled": true, "color": "#d9d9dd", "size": 60, "opacity": 1},
          "encoding": {
            "x": {"datum": {"year": 2026, "month": 1, "date": 2, "hours": 22, "utc": true}, "type": "temporal"},
            "y": {"datum": 7.6}
          }
        },
        {
          "mark": {"type": "point", "filled": true, "fill": "#2fb34a", "stroke": "#cfeed6", "strokeWidth": 1, "size": 60, "opacity": 1},
          "encoding": {
            "x": {"datum": {"year": 2026, "month": 1, "date": 2, "hours": 22, "utc": true}, "type": "temporal"},
            "y": {"datum": 7.0}
          }
        },
        {
          "mark": {"type": "text", "align": "left", "baseline": "middle", "fontSize": 14, "color": "#e4e4e8", "font": "Roboto"},
          "encoding": {
            "x": {"datum": {"year": 2026, "month": 1, "date": 6, "hours": 7, "utc": true}, "type": "temporal"},
            "y": {"datum": 7.6},
            "text": {"value": "DOT Price"}
          }
        },
        {
          "mark": {"type": "text", "align": "left", "baseline": "middle", "fontSize": 14, "color": "#e4e4e8", "font": "Roboto"},
          "encoding": {
            "x": {"datum": {"year": 2026, "month": 1, "date": 6, "hours": 7, "utc": true}, "type": "temporal"},
            "y": {"datum": 7.0},
            "text": {"value": "OI-Weighted"}
          }
        },
        {
          "mark": {"type": "text", "align": "right", "baseline": "middle", "fontSize": 14, "fontWeight": "bold", "color": "#ffffff", "font": "Roboto"},
          "encoding": {
            "x": {"datum": {"year": 2026, "month": 3, "date": 4, "hours": 7, "utc": true}, "type": "temporal"},
            "y": {"datum": 7.6},
            "text": {"value": "$1.60"}
          }
        },
        {
          "mark": {"type": "text", "align": "right", "baseline": "middle", "fontSize": 14, "fontWeight": "bold", "color": "#ffffff", "font": "Roboto"},
          "encoding": {
            "x": {"datum": {"year": 2026, "month": 3, "date": 4, "hours": 7, "utc": true}, "type": "temporal"},
            "y": {"datum": 7.0},
            "text": {"value": "0.0077%"}
          }
        },
        {
          "mark": {"type": "square", "size": 0, "filled": true},
          "encoding": {
            "x": {"datum": {"year": 2026, "month": 3, "date": 17, "hours": 11, "utc": true}, "type": "temporal"},
            "y": {"datum": 1.6},
            "color": {
              "datum": "DOT Price", "type": "nominal",
              "scale": {"domain": ["DOT Price", "OI-Weighted"], "range": ["#d9d9dd", "#24a84b"]},
              "legend": {
                "orient": "none", "legendX": 615, "legendY": -33, "direction": "horizontal", "title": null,
                "symbolType": "square", "symbolSize": 110, "symbolStrokeWidth": 0, "symbolOpacity": 1,
                "labelColor": "#e4e4e8", "labelFontSize": 12, "labelFont": "Roboto", "columnPadding": 14, "labelOffset": 5
              }
            }
          }
        }
      ]
    }
  ],
  "resolve": {"scale": {"y": "independent"}}
}
